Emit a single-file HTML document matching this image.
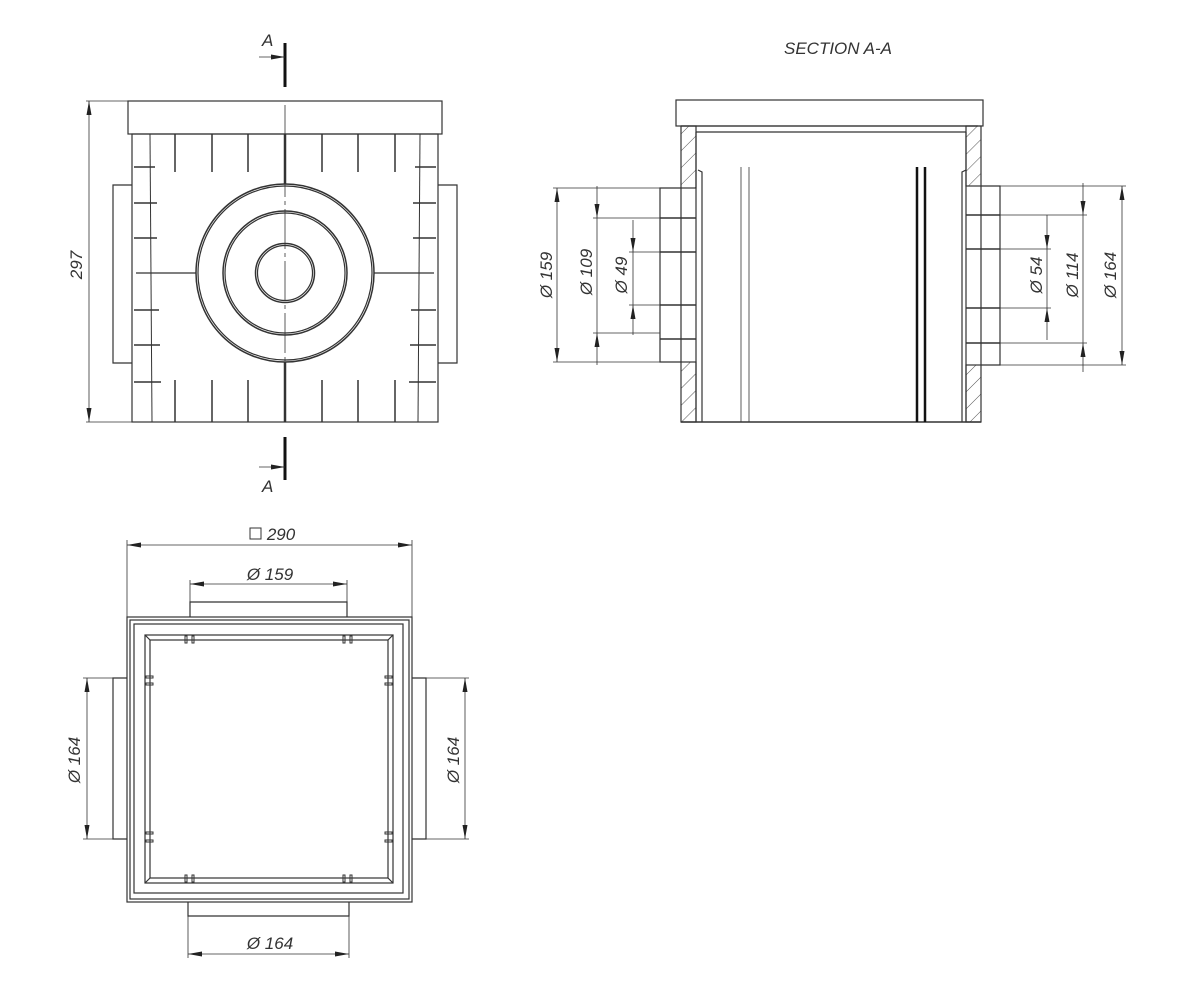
<!DOCTYPE html>
<html><head><meta charset="utf-8"><style>
html,body{margin:0;padding:0;background:#fff;}
svg{display:block;}
text{font-family:"Liberation Sans",sans-serif;font-style:italic;fill:#333;font-size:17px;}
</style></head><body>
<svg width="1200" height="1000" viewBox="0 0 1200 1000" xmlns="http://www.w3.org/2000/svg">
<defs>
<marker id="ar" viewBox="0 0 14 6" refX="14" refY="3" markerWidth="14" markerHeight="6" markerUnits="userSpaceOnUse" orient="auto-start-reverse"><path d="M0,0.5 L14,3 L0,5.5 Z" fill="#222"/></marker>
<pattern id="hatch" patternUnits="userSpaceOnUse" width="12" height="12" patternTransform="rotate(45)"><line x1="0" y1="0" x2="0" y2="12" stroke="#555" stroke-width="1"/></pattern>
</defs>
<g fill="none" stroke="#333" stroke-width="1.2">
<!-- ===== TOP VIEW ===== -->
<rect x="128" y="101" width="314" height="33"/>
<rect x="132" y="134" width="306" height="288"/>
<line x1="150" y1="134" x2="152" y2="422" stroke-width="1"/>
<line x1="420" y1="134" x2="418" y2="422" stroke-width="1"/>
<polyline points="132,185 113,185 113,363 132,363"/>
<polyline points="438,185 457,185 457,363 438,363"/>
<circle cx="285" cy="273" r="89" stroke-width="1.5"/>
<circle cx="285" cy="273" r="87"/>
<circle cx="285" cy="273" r="62" stroke-width="1.5"/>
<circle cx="285" cy="273" r="60"/>
<circle cx="285" cy="273" r="29.5" stroke-width="1.5"/>
<circle cx="285" cy="273" r="27.5"/>
<line x1="136" y1="273" x2="196" y2="273"/>
<line x1="374" y1="273" x2="434" y2="273"/>
<line x1="285" y1="105" x2="285" y2="418" stroke-width="0.8" stroke-dasharray="40 4 4 4"/>
<line x1="285" y1="134" x2="285" y2="184" stroke-width="2.5"/>
<line x1="285" y1="362" x2="285" y2="422" stroke-width="2.5"/>
<g stroke-width="1.5">
<line x1="175" y1="134" x2="175" y2="172"/><line x1="212" y1="134" x2="212" y2="172"/><line x1="248" y1="134" x2="248" y2="172"/>
<line x1="322" y1="134" x2="322" y2="172"/><line x1="358" y1="134" x2="358" y2="172"/><line x1="395" y1="134" x2="395" y2="172"/>
<line x1="175" y1="380" x2="175" y2="422"/><line x1="212" y1="380" x2="212" y2="422"/><line x1="248" y1="380" x2="248" y2="422"/>
<line x1="322" y1="380" x2="322" y2="422"/><line x1="358" y1="380" x2="358" y2="422"/><line x1="395" y1="380" x2="395" y2="422"/>
<line x1="134" y1="167" x2="155" y2="167"/><line x1="134" y1="203" x2="157" y2="203"/><line x1="134" y1="238" x2="157" y2="238"/>
<line x1="134" y1="310" x2="159" y2="310"/><line x1="134" y1="345" x2="160" y2="345"/><line x1="134" y1="382" x2="161" y2="382"/>
<line x1="436" y1="167" x2="415" y2="167"/><line x1="436" y1="203" x2="413" y2="203"/><line x1="436" y1="238" x2="413" y2="238"/>
<line x1="436" y1="310" x2="411" y2="310"/><line x1="436" y1="345" x2="410" y2="345"/><line x1="436" y1="382" x2="409" y2="382"/>
</g>
<line x1="86" y1="101" x2="128" y2="101" stroke-width="0.8"/>
<line x1="86" y1="422" x2="132" y2="422" stroke-width="0.8"/>
<line x1="89" y1="101" x2="89" y2="422" stroke-width="0.8" marker-start="url(#ar)" marker-end="url(#ar)"/>
<line x1="285" y1="43" x2="285" y2="87" stroke-width="3" stroke="#111"/>
<line x1="285" y1="437" x2="285" y2="480" stroke-width="3" stroke="#111"/>
<line x1="259" y1="57" x2="285" y2="57" stroke-width="0.8" marker-end="url(#ar)"/>
<line x1="259" y1="467" x2="285" y2="467" stroke-width="0.8" marker-end="url(#ar)"/>

<!-- ===== SECTION ===== -->
<rect x="676" y="100" width="307" height="26"/>
<line x1="681" y1="126" x2="978" y2="126"/>
<line x1="696" y1="132" x2="966" y2="132"/>
<rect x="681" y="126" width="15" height="62" fill="url(#hatch)"/>
<rect x="681" y="362" width="15" height="60" fill="url(#hatch)"/>
<rect x="966" y="126" width="15" height="60" fill="url(#hatch)"/>
<rect x="966" y="365" width="15" height="57" fill="url(#hatch)"/>
<line x1="681" y1="188" x2="681" y2="362"/>
<line x1="696" y1="132" x2="696" y2="422"/>
<line x1="981" y1="186" x2="981" y2="365"/>
<line x1="966" y1="132" x2="966" y2="422"/>
<polyline points="702,422 702,172 698,170"/>
<polyline points="962,422 962,172 966,170"/>
<polyline points="681,188 660,188 660,362 681,362"/>
<polyline points="981,186 1000,186 1000,365 981,365"/>
<g stroke-width="1.5">
<line x1="660" y1="218" x2="696" y2="218"/><line x1="660" y1="252" x2="696" y2="252"/><line x1="660" y1="305" x2="696" y2="305"/><line x1="660" y1="339" x2="696" y2="339"/>
<line x1="966" y1="215" x2="1000" y2="215"/><line x1="966" y1="249" x2="1000" y2="249"/><line x1="966" y1="308" x2="1000" y2="308"/><line x1="966" y1="343" x2="1000" y2="343"/>
</g>
<line x1="681" y1="422" x2="981" y2="422" stroke-width="1.5"/>
<line x1="741" y1="167" x2="741" y2="422" stroke-width="0.8"/>
<line x1="749" y1="167" x2="749" y2="422" stroke-width="0.8"/>
<line x1="917" y1="167" x2="917" y2="422" stroke-width="2.5" stroke="#111"/>
<line x1="925" y1="167" x2="925" y2="422" stroke-width="2.5" stroke="#111"/>
<g stroke-width="0.8">
<line x1="553" y1="188" x2="660" y2="188"/><line x1="553" y1="362" x2="660" y2="362"/>
<line x1="593" y1="218" x2="660" y2="218"/><line x1="593" y1="333" x2="660" y2="333"/>
<line x1="629" y1="252" x2="660" y2="252"/><line x1="629" y1="305" x2="660" y2="305"/>
<line x1="557" y1="188" x2="557" y2="362" marker-start="url(#ar)" marker-end="url(#ar)"/>
<line x1="597" y1="186" x2="597" y2="218" marker-end="url(#ar)"/>
<line x1="597" y1="365" x2="597" y2="333" marker-end="url(#ar)"/>
<line x1="597" y1="218" x2="597" y2="333"/>
<line x1="633" y1="220" x2="633" y2="252" marker-end="url(#ar)"/>
<line x1="633" y1="335" x2="633" y2="305" marker-end="url(#ar)"/>
<line x1="633" y1="252" x2="633" y2="305"/>
<line x1="1000" y1="186" x2="1126" y2="186"/><line x1="1000" y1="365" x2="1126" y2="365"/>
<line x1="1000" y1="215" x2="1087" y2="215"/><line x1="1000" y1="343" x2="1087" y2="343"/>
<line x1="1000" y1="249" x2="1051" y2="249"/><line x1="1000" y1="308" x2="1051" y2="308"/>
<line x1="1122" y1="186" x2="1122" y2="365" marker-start="url(#ar)" marker-end="url(#ar)"/>
<line x1="1083" y1="183" x2="1083" y2="215" marker-end="url(#ar)"/>
<line x1="1083" y1="372" x2="1083" y2="343" marker-end="url(#ar)"/>
<line x1="1083" y1="215" x2="1083" y2="343"/>
<line x1="1047" y1="215" x2="1047" y2="249" marker-end="url(#ar)"/>
<line x1="1047" y1="340" x2="1047" y2="308" marker-end="url(#ar)"/>
<line x1="1047" y1="249" x2="1047" y2="308"/>
</g>

<!-- ===== BOTTOM VIEW ===== -->
<rect x="127" y="617" width="285" height="285"/>
<rect x="130" y="620" width="279" height="279"/>
<rect x="134" y="624" width="269" height="269"/>
<rect x="145" y="635" width="248" height="248"/>
<rect x="150" y="640" width="238" height="238"/>
<line x1="145" y1="635" x2="150" y2="640"/><line x1="393" y1="635" x2="388" y2="640"/>
<line x1="145" y1="883" x2="150" y2="878"/><line x1="393" y1="883" x2="388" y2="878"/>
<g stroke-width="1">
<rect x="185" y="636" width="2" height="7"/><rect x="192" y="636" width="2" height="7"/>
<rect x="343" y="636" width="2" height="7"/><rect x="350" y="636" width="2" height="7"/>
<rect x="185" y="875" width="2" height="7"/><rect x="192" y="875" width="2" height="7"/>
<rect x="343" y="875" width="2" height="7"/><rect x="350" y="875" width="2" height="7"/>
<rect x="146" y="676" width="7" height="2"/><rect x="146" y="683" width="7" height="2"/>
<rect x="146" y="832" width="7" height="2"/><rect x="146" y="840" width="7" height="2"/>
<rect x="385" y="676" width="7" height="2"/><rect x="385" y="683" width="7" height="2"/>
<rect x="385" y="832" width="7" height="2"/><rect x="385" y="840" width="7" height="2"/>
</g>
<polyline points="190,617 190,602 347,602 347,617"/>
<polyline points="188,902 188,916 349,916 349,902"/>
<polyline points="127,678 113,678 113,839 127,839"/>
<polyline points="412,678 426,678 426,839 412,839"/>
<g stroke-width="0.8">
<line x1="127" y1="540" x2="127" y2="617"/><line x1="412" y1="540" x2="412" y2="617"/>
<line x1="127" y1="545" x2="412" y2="545" marker-start="url(#ar)" marker-end="url(#ar)"/>
<line x1="190" y1="580" x2="190" y2="602"/><line x1="347" y1="580" x2="347" y2="602"/>
<line x1="190" y1="584" x2="347" y2="584" marker-start="url(#ar)" marker-end="url(#ar)"/>
<line x1="188" y1="916" x2="188" y2="958"/><line x1="349" y1="916" x2="349" y2="958"/>
<line x1="188" y1="954" x2="349" y2="954" marker-start="url(#ar)" marker-end="url(#ar)"/>
<line x1="83" y1="678" x2="113" y2="678"/><line x1="83" y1="839" x2="113" y2="839"/>
<line x1="87" y1="678" x2="87" y2="839" marker-start="url(#ar)" marker-end="url(#ar)"/>
<line x1="426" y1="678" x2="469" y2="678"/><line x1="426" y1="839" x2="469" y2="839"/>
<line x1="465" y1="678" x2="465" y2="839" marker-start="url(#ar)" marker-end="url(#ar)"/>
</g>
<rect x="250" y="528" width="11" height="11" stroke-width="1"/>
</g>

<text x="262" y="46">A</text>
<text x="262" y="492">A</text>
<text x="82" y="265" text-anchor="middle" transform="rotate(-90 82 265)">297</text>
<text x="838" y="54" text-anchor="middle" font-size="16">SECTION A-A</text>
<text x="552" y="275" text-anchor="middle" transform="rotate(-90 552 275)">Ø 159</text>
<text x="592" y="272" text-anchor="middle" transform="rotate(-90 592 272)">Ø 109</text>
<text x="627" y="275" text-anchor="middle" transform="rotate(-90 627 275)">Ø 49</text>
<text x="1042" y="275" text-anchor="middle" transform="rotate(-90 1042 275)">Ø 54</text>
<text x="1078" y="275" text-anchor="middle" transform="rotate(-90 1078 275)">Ø 114</text>
<text x="1116" y="275" text-anchor="middle" transform="rotate(-90 1116 275)">Ø 164</text>
<text x="281" y="540" text-anchor="middle">290</text>
<text x="270" y="580" text-anchor="middle">Ø 159</text>
<text x="270" y="949" text-anchor="middle">Ø 164</text>
<text x="80" y="760" text-anchor="middle" transform="rotate(-90 80 760)">Ø 164</text>
<text x="459" y="760" text-anchor="middle" transform="rotate(-90 459 760)">Ø 164</text>
</svg>
</body></html>
